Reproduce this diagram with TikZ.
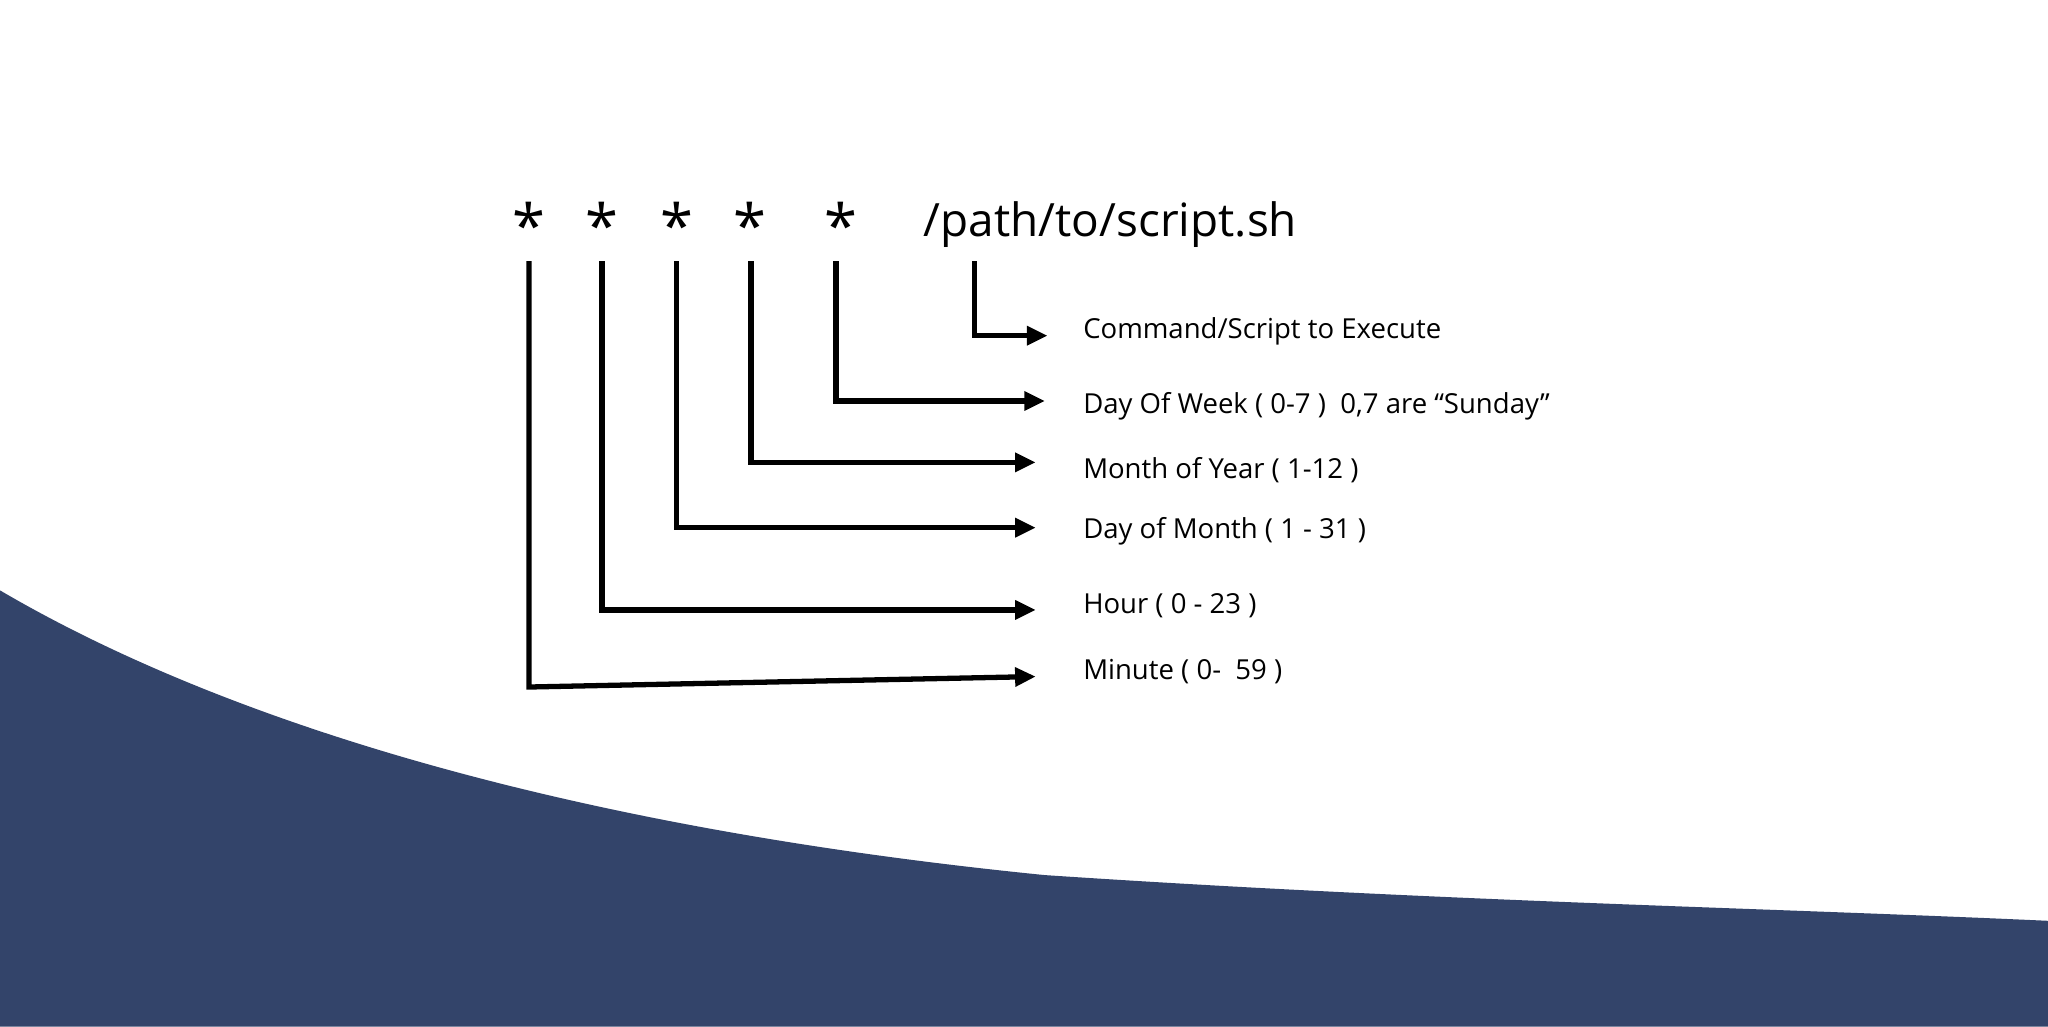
\documentclass[tikz,border=0pt]{standalone}
\usepackage{fontspec}
\setmainfont{Open Sans}
\usetikzlibrary{arrows.meta}
\definecolor{wave}{HTML}{33446A}
\begin{document}
\begin{tikzpicture}[x=0.02cm,y=-0.02cm,
  conn/.style={line width=2.3pt,-{Triangle[length=9pt,width=8pt]}},
  lbl/.style={anchor=west,inner sep=0pt,font=\fontsize{12}{14}\selectfont},
  star/.style={inner sep=0pt,font=\fontsize{26}{28}\selectfont}]
\useasboundingbox (0,0) rectangle (1568,786);
\fill[white] (0,0) rectangle (1568,786);
\fill[wave] (0,452) .. controls (150,540) and (400,630) .. (800,670)
  .. controls (1100,690) and (1350,695) .. (1568,705) -- (1568,786) -- (0,786) -- cycle;
\foreach \n/\x in {s1/405,s2/461,s3/518,s4/574,s5/644}{\node[star] (\n) at (\x,172) {*};}
\node[anchor=base west,inner sep=0pt,font=\fontsize{20}{24}\selectfont] (path) at (707,181) {/path/to/script.sh};
\node[lbl] (l0) at (829,254) {Command/Script to Execute};
\node[lbl] (l1) at (829,311) {Day Of Week ( 0-7 )\ \ 0,7 are “Sunday”};
\node[lbl] (l2) at (829,360) {Month of Year ( 1-12 )};
\node[lbl] (l3) at (829,407) {Day of Month ( 1 - 31 )};
\node[lbl] (l4) at (829,464) {Hour ( 0 - 23 )};
\node[lbl] (l5) at (829,514) {Minute ( 0-\ \ 59 )};
\coordinate (e0) at (802,257);
\coordinate (e1) at (800,307);
\coordinate (e2) at (793,354);
\coordinate (e3) at (793,404);
\coordinate (e4) at (793,467);
\coordinate (e5) at (793,518);
\draw[conn] (746,200) -- (746,257) -- (e0);
\draw[conn] (640,200) -- (640,307) -- (e1);
\draw[conn] (575,200) -- (575,354) -- (e2);
\draw[conn] (518,200) -- (518,404) -- (e3);
\draw[conn] (461,200) -- (461,467) -- (e4);
\draw[conn] (405,200) -- (405,526) -- (e5);
\end{tikzpicture}
\end{document}
